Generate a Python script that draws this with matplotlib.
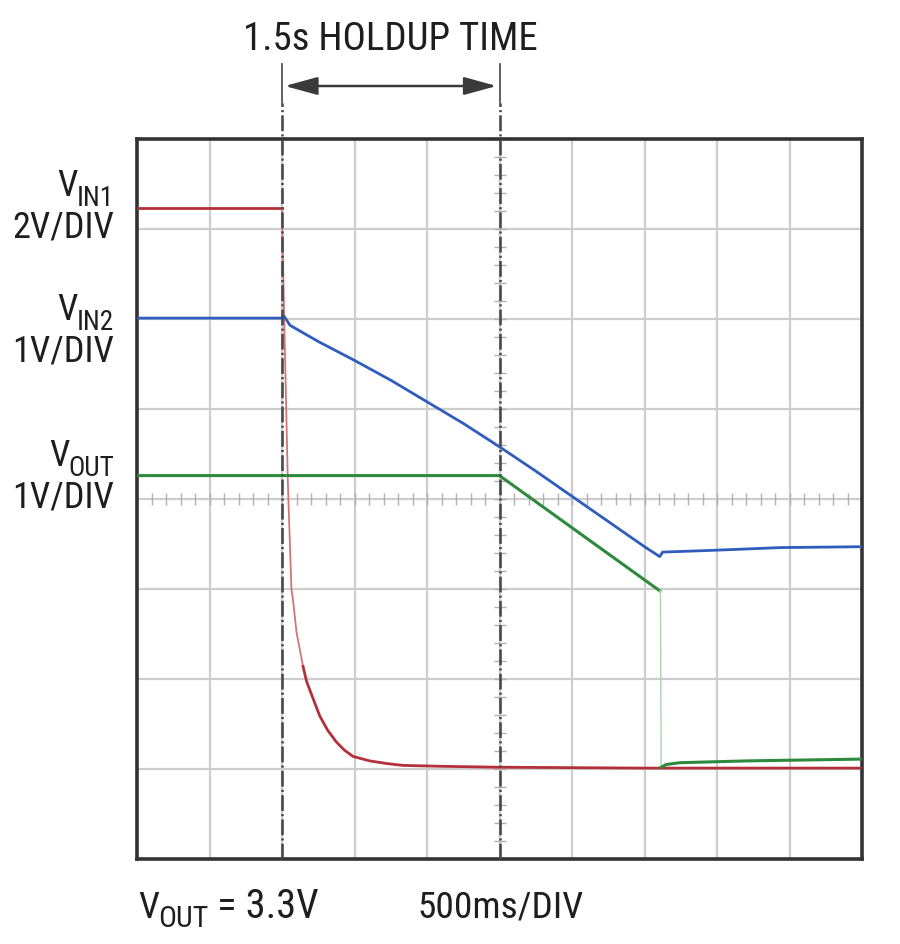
import numpy as np
import matplotlib
matplotlib.use('Agg')
import matplotlib.pyplot as plt
from matplotlib import font_manager

names = {f.name for f in font_manager.fontManager.ttflist}
cands = ['Liberation Sans Narrow', 'Roboto Condensed', 'Archivo Narrow', 'Roboto']
FAM = [c for c in cands if c in names][:1] or ['Liberation Sans']
plt.rcParams['font.family'] = FAM + ['DejaVu Sans']

# ---------------- data (x in time divisions, y in vertical divisions) -------------
red_x = [0, 2.0, 2.01, 2.03, 2.05, 2.08, 2.13, 2.15, 2.2, 2.29, 2.34, 2.43, 2.52, 2.63, 2.75,
         2.86, 2.98, 3.21, 3.45, 3.67, 4.2, 4.97, 7.0, 10.0]
red_y = [7.23, 7.23, 6.8, 6.0, 5.3, 4.2, 3.0, 2.89, 2.52, 2.14, 1.97, 1.78, 1.59, 1.43, 1.30,
         1.21, 1.14, 1.09, 1.06, 1.04, 1.03, 1.02, 1.01, 1.01]

blue_x = [0, 2.0, 2.03, 2.11, 2.5, 3.0, 3.5, 4.0, 4.5, 5.0, 5.5, 6.0, 6.5, 7.0, 7.21, 7.25, 7.95, 8.87, 10.0]
blue_y = [6.01, 6.01, 6.03, 5.93, 5.75, 5.54, 5.32, 5.08, 4.84, 4.58, 4.31, 4.03, 3.75, 3.47, 3.36,
          3.41, 3.43, 3.46, 3.47]

green_x = [0, 5.0, 7.21, 7.22, 7.23, 7.3, 7.49, 8.41, 10.0]
green_y = [4.26, 4.26, 2.98, 2.98, 1.02, 1.05, 1.07, 1.09, 1.11]
green_drop = 3          # index where the fast drop starts
red_fast = (1, 9)       # index range of the fast fall of VIN1

holdup_start, holdup_end = 2.0, 5.0
title_text = '1.5s HOLDUP TIME'

W, H = 900, 945
RED, BLUE, GREEN = '#b3303a', '#2f5dbd', '#2d8a3c'
TXT = '#1e1e1e'

fig = plt.figure(figsize=(W/100, H/100), dpi=100)
ax = fig.add_axes([137/W, 1-860/H, 725/W, 720/H])
ax.set_xlim(0, 10)
ax.set_ylim(0, 8)
ax.set_xticks(range(11))
ax.set_yticks(range(9))
ax.grid(color='#cdcdcd', lw=1.6, zorder=0)
ax.set_axisbelow(True)
ax.tick_params(length=0, labelbottom=False, labelleft=False)
for s in ax.spines.values():
    s.set_linewidth(2.6)
    s.set_color('#333333')

# centre graticule minor ticks
tx = np.arange(0, 10.001, 0.2)
ax.plot(tx, np.full_like(tx, 4.0), ls='none', marker='|', ms=9, mew=1.0, color='#b0b0b0', zorder=1)
ty = np.arange(0, 8.001, 0.2)
ax.plot(np.full_like(ty, 5.0), ty, ls='none', marker='_', ms=9, mew=1.0, color='#b0b0b0', zorder=1)

# traces
a, b = red_fast
ax.plot(red_x[:a+1], red_y[:a+1], color=RED, lw=2.0, zorder=3)
ax.plot(red_x[a:b+1], red_y[a:b+1], color='#d27479', lw=1.3, zorder=3)
ax.plot(red_x[b:], red_y[b:], color=RED, lw=2.0, zorder=3)
ax.plot(blue_x, blue_y, color=BLUE, lw=2.0, zorder=4)
ax.plot(green_x[:green_drop], green_y[:green_drop], color=GREEN, lw=2.2, zorder=4)
ax.plot(green_x[green_drop-1:green_drop+2], green_y[green_drop-1:green_drop+2], color='#a8d4ae', lw=1.0, zorder=4)
ax.plot(green_x[green_drop+1:], green_y[green_drop+1:], color=GREEN, lw=2.2, zorder=4)

# holdup markers
ytop_in = (860-104)/90
ytop_out = (860-65)/90
for xv in (holdup_start, holdup_end):
    ax.plot([xv, xv], [0, ytop_in], color='#4a4a4a', lw=1.9,
            ls=(0, (6, 1.2, 0.8, 1.2)), zorder=5, clip_on=False)
    ax.plot([xv, xv], [ytop_in, ytop_out], color='#555555', lw=1.3, zorder=5, clip_on=False)

yarr = (860-87)/90
ax.annotate('', xy=(holdup_end-0.04, yarr), xytext=(holdup_start+0.04, yarr),
            xycoords='data', annotation_clip=False,
            arrowprops=dict(arrowstyle='<|-|>,head_length=2.0,head_width=0.55',
                            color='#3a3a3a', lw=1.8, shrinkA=0, shrinkB=0))

renderer = fig.canvas.get_renderer()

def fit_size(s, target_w, base=26):
    t = fig.text(0, 0, s, fontsize=base)
    w = t.get_window_extent(renderer).width
    t.remove()
    return base * target_w / w

# texts
tsize = fit_size(title_text, 294)
fig.text(390/W, 1-50/H, title_text, ha='center', va='baseline', fontsize=tsize, color=TXT)

LS = fit_size('2V/DIV', 102)
SS = LS * 0.75

def label_right(xr, yb, main, sub, size=LS, subsize=SS, drop=10):
    t2 = fig.text(xr/W, 1-(yb+drop)/H, sub, ha='right', va='baseline', fontsize=subsize, color=TXT)
    bb = t2.get_window_extent(renderer)
    fig.text((bb.x0+1)/W, 1-yb/H, main, ha='right', va='baseline', fontsize=size, color=TXT)

def plain_right(xr, yb, s, size=LS):
    fig.text(xr/W, 1-yb/H, s, ha='right', va='baseline', fontsize=size, color=TXT)

label_right(114, 196, 'V', 'IN1')
plain_right(114, 238, '2V/DIV')
label_right(114, 320, 'V', 'IN2')
plain_right(114, 362, '1V/DIV')
label_right(114, 466, 'V', 'OUT')
plain_right(114, 508, '1V/DIV')

BS = fit_size('500ms/DIV', 166)
t1 = fig.text(138/W, 1-918/H, 'V', ha='left', va='baseline', fontsize=BS, color=TXT)
bb = t1.get_window_extent(renderer)
t2 = fig.text((bb.x1-1)/W, 1-927/H, 'OUT', ha='left', va='baseline', fontsize=BS*0.8, color=TXT)
bb2 = t2.get_window_extent(renderer)
rest = ' = 3.3V'
RS = fit_size(rest, 320 - bb2.x1 - 1)
RS = min(max(RS, BS * 0.95), BS * 1.08)
fig.text(bb2.x1/W, 1-918/H, rest, ha='left', va='baseline', fontsize=RS, color=TXT)
fig.text(417/W, 1-918/H, '500ms/DIV', ha='left', va='baseline', fontsize=BS, color=TXT)

fig.savefig('out.png', dpi=100, facecolor='white')
